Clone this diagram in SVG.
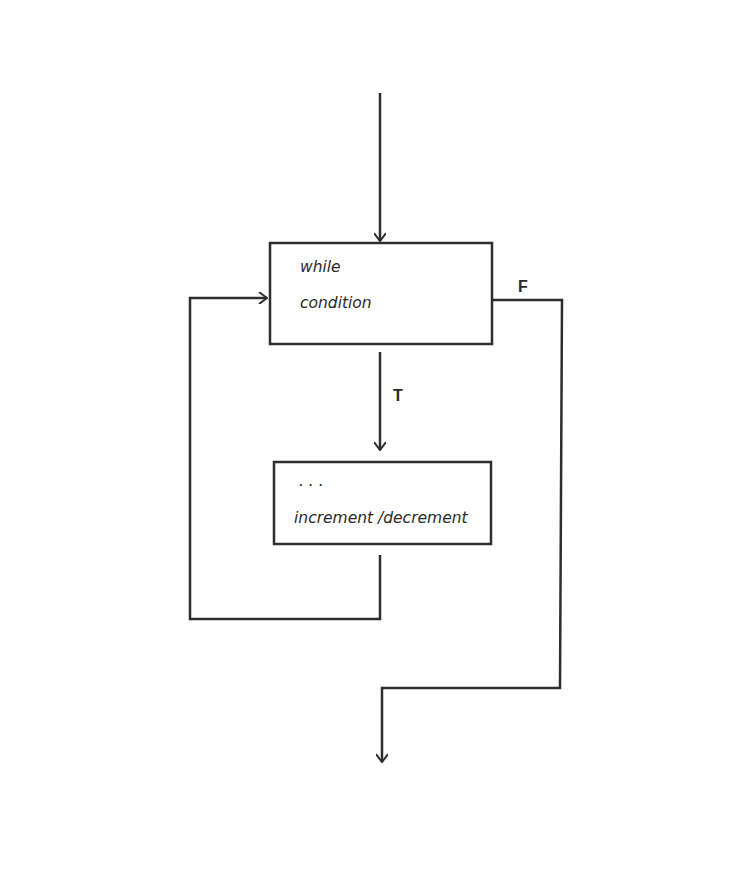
<svg xmlns="http://www.w3.org/2000/svg" width="749" height="895" viewBox="0 0 749 895">
<defs>
<marker id="ah" viewBox="0 0 12 12" refX="11" refY="6" markerWidth="12" markerHeight="12" markerUnits="userSpaceOnUse" orient="auto">
<path d="M3,0 L11,6 L3,12" fill="none" stroke="#2e2e2e" stroke-width="2"/>
</marker>
</defs>
<style>
.box{fill:none;stroke:#2e2e2e;stroke-width:2.5}
.ln{fill:none;stroke:#2e2e2e;stroke-width:2.5}
.hw{font-family:"DejaVu Sans","Liberation Sans",sans-serif;font-style:italic;font-size:15.5px;fill:#2a2a2a}
.lbl{font-family:"Liberation Sans",sans-serif;font-size:16px;font-weight:bold;fill:#2a2a2a}
</style>
<rect width="749" height="895" fill="#ffffff"/>
<g id="connectors">
<path class="ln" d="M380,93 L380,241" marker-end="url(#ah)"/>
<path class="ln" d="M380,352 L380,450" marker-end="url(#ah)"/>
<path class="ln" d="M380,555 L380,619 L190,619 L190,298 L267,298" marker-end="url(#ah)"/>
<path class="ln" d="M492,300 L562,300 L560,688 L382,688 L382,762" marker-end="url(#ah)"/>
<text class="lbl" x="393" y="401">T</text>
<text class="lbl" x="518" y="292">F</text>
</g>
<g id="while">
<rect class="box" x="270" y="243" width="222" height="101"/>
<text class="hw" x="300" y="272">while</text>
<text class="hw" x="300" y="308">condition</text>
</g>
<g id="body">
<rect class="box" x="274" y="462" width="217" height="82"/>
<text class="hw" x="299" y="486">. . .</text>
<text class="hw" x="294" y="523">increment /decrement</text>
</g>
</svg>
